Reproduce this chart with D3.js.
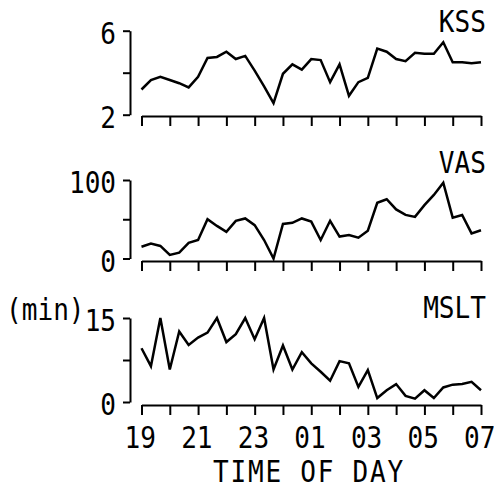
<!DOCTYPE html>
<html>
<head>
<meta charset="utf-8">
<script src="https://cdn.jsdelivr.net/npm/d3@7"></script>
<style>
  body { margin: 0; background: #fff; }
  svg text { font-family: "DejaVu Sans Mono", monospace; fill: #000; }
</style>
</head>
<body>
<svg id="chart" width="494" height="500"></svg>
<script>
// sleepiness measures, one sample every 20 min from 19:00 to 07:00
const kss = [3.2, 3.65, 3.8, 3.65, 3.5, 3.3, 3.8, 4.7, 4.75, 5.0, 4.65, 4.8, 4.1, 3.35, 2.55,
             3.95, 4.4, 4.15, 4.65, 4.6, 3.55, 4.4, 2.9, 3.55, 3.75, 5.15, 5.0, 4.65, 4.55,
             4.95, 4.9, 4.9, 5.45, 4.5, 4.5, 4.45, 4.5];
const vas = [15, 19, 16, 4.5, 7.5, 20, 23.5, 50, 41.5, 34, 48, 51, 42.5, 23.5, 0,
             44, 45.5, 51, 47, 23.5, 48, 28, 30, 26.5, 35.5, 71, 75.5, 62.5, 55.5,
             53, 68, 81, 96.5, 52, 55.5, 32, 36];
const mslt = [9.6, 6.4, 15, 5.8, 12.6, 10.2, 11.5, 12.4, 15, 10.7, 12.1, 15, 11.2, 15, 5.8,
              10.1, 5.8, 8.9, 6.9, 5.4, 3.8, 7.3, 6.9, 2.7, 5.7, 0.7, 2.1, 3.2, 1.1,
              0.6, 2.1, 0.7, 2.6, 3.1, 3.2, 3.6, 2.1];

const hourTicks = d3.range(13);           // hours after 19:00
const hourLabels = ["19", "21", "23", "01", "03", "05", "07"];
const times = kss.map((d, i) => i / 3);   // hours after 19:00

const FS = 30;              // font size
const SQUEEZE = "scale(0.87,1)";  // the plotter lettering is narrow

const svg = d3.select("#chart");

const x = d3.scaleLinear().domain([0, 12]).range([141.5, 481]);

const panels = [
  { name: "KSS",  values: kss,  domain: [2, 6],   ticks: [2, 4, 6],      labels: [2, 6],
    top: 30.7, bottom: 114.7, axisY: 116, titleY: 21 },
  { name: "VAS",  values: vas,  domain: [0, 100], ticks: [0, 50, 100],   labels: [0, 100],
    top: 180, bottom: 258.5, axisY: 261, titleY: 162 },
  { name: "MSLT", values: mslt, domain: [0, 15],  ticks: [0, 7.5, 15],   labels: [0, 15],
    top: 318, bottom: 402, axisY: 405, titleY: 307 }
];

// free standing label, squeezed around its anchor point
function label(tx, ty, str, anchor, spacing) {
  svg.append("g")
    .attr("transform", `translate(${tx},${ty})`)
    .append("text")
    .attr("transform", SQUEEZE)
    .attr("dy", "0.36em")
    .attr("text-anchor", anchor)
    .attr("font-size", FS)
    .attr("letter-spacing", spacing || 0)
    .text(str);
}

panels.forEach((p, k) => {
  const y = d3.scaleLinear().domain(p.domain).range([p.bottom, p.top]);

  // y axis, bracket style with ticks to the left
  const gy = svg.append("g")
    .attr("transform", "translate(130,0)")
    .call(d3.axisLeft(y)
      .tickValues(p.ticks)
      .tickSize(7)
      .tickSizeOuter(0)
      .tickPadding(9)
      .tickFormat(d => p.labels.includes(d) ? d : ""));
  gy.selectAll("path, line").attr("stroke", "#000").attr("stroke-width", 2);
  gy.selectAll("text")
    .attr("font-size", FS)
    .attr("font-family", null)
    .attr("dy", "0.42em")
    .attr("transform", SQUEEZE);

  // x axis, hourly ticks, labels only on the last panel
  const last = k === panels.length - 1;
  const gx = svg.append("g")
    .attr("transform", `translate(0,${p.axisY})`)
    .call(d3.axisBottom(x)
      .tickValues(hourTicks)
      .tickSize(10)
      .tickSizeOuter(0)
      .tickPadding(12)
      .tickFormat(d => last && d % 2 === 0 ? hourLabels[d / 2] : ""));
  gx.selectAll("path, line").attr("stroke", "#000").attr("stroke-width", 2);
  gx.selectAll("text")
    .attr("font-size", FS)
    .attr("font-family", null)
    .attr("dx", -2)
    .attr("transform", SQUEEZE);

  const line = d3.line()
    .x((d, i) => x(times[i]))
    .y(d => y(d));

  svg.append("path")
    .datum(p.values)
    .attr("d", line)
    .attr("fill", "none")
    .attr("stroke", "#000")
    .attr("stroke-width", 2.5)
    .attr("stroke-linejoin", "miter");

  label(486, p.titleY, p.name, "end");
});

// unit for the MSLT panel
label(6, 309, "(min)", "start");

label(309, 471, "TIME OF DAY", "middle", 2);
</script>
</body>
</html>
